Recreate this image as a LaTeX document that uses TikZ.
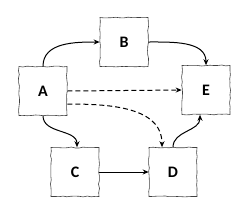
\documentclass[tikz,border=0pt]{standalone}
\usepackage{fontspec}
\setmainfont{Carlito}
\usetikzlibrary{arrows.meta,decorations.pathmorphing}

\tikzset{
  sketchbox/.style={draw=black!75, line width=0.6pt, minimum width=48pt, minimum height=49pt,
    inner sep=0pt, font=\fontsize{16}{16}\selectfont\bfseries,
    decorate, decoration={random steps, segment length=4pt, amplitude=0.5pt}},
  link/.style={-{Stealth[length=6pt,width=5pt]}, line width=1pt},
  dlink/.style={link, dash pattern=on 5pt off 3pt}
}

\begin{document}
\begin{tikzpicture}[x=1pt,y=-1pt]
  \pgfmathsetseed{7}
  \useasboundingbox (0,0) rectangle (251,212);

  \node[sketchbox] (A) at (43,91) {A};
  \node[sketchbox] (B) at (124,42) {B};
  \node[sketchbox] (E) at (206,90) {E};
  \node[sketchbox] (C) at (75,172) {C};
  \node[sketchbox] (D) at (173,172) {D};

  % solid links
  \draw[link] (A.north) to[out=90,in=180] (B.west);
  \draw[link] (B.east) to[out=0,in=90] (E.north);
  \draw[link] (A.south) to[out=-90,in=90] ([xshift=2pt]C.north);
  \draw[link] (C.east) -- (D.west);
  \draw[link] (D.north) to[out=90,in=-90] ([xshift=-6pt]E.south);

  % dashed links
  \draw[dlink] (A.east) -- (E.west);
  \draw[dlink] ([yshift=-13pt]A.east) to[out=0,in=90] ([xshift=-11pt]D.north);
\end{tikzpicture}
\end{document}
